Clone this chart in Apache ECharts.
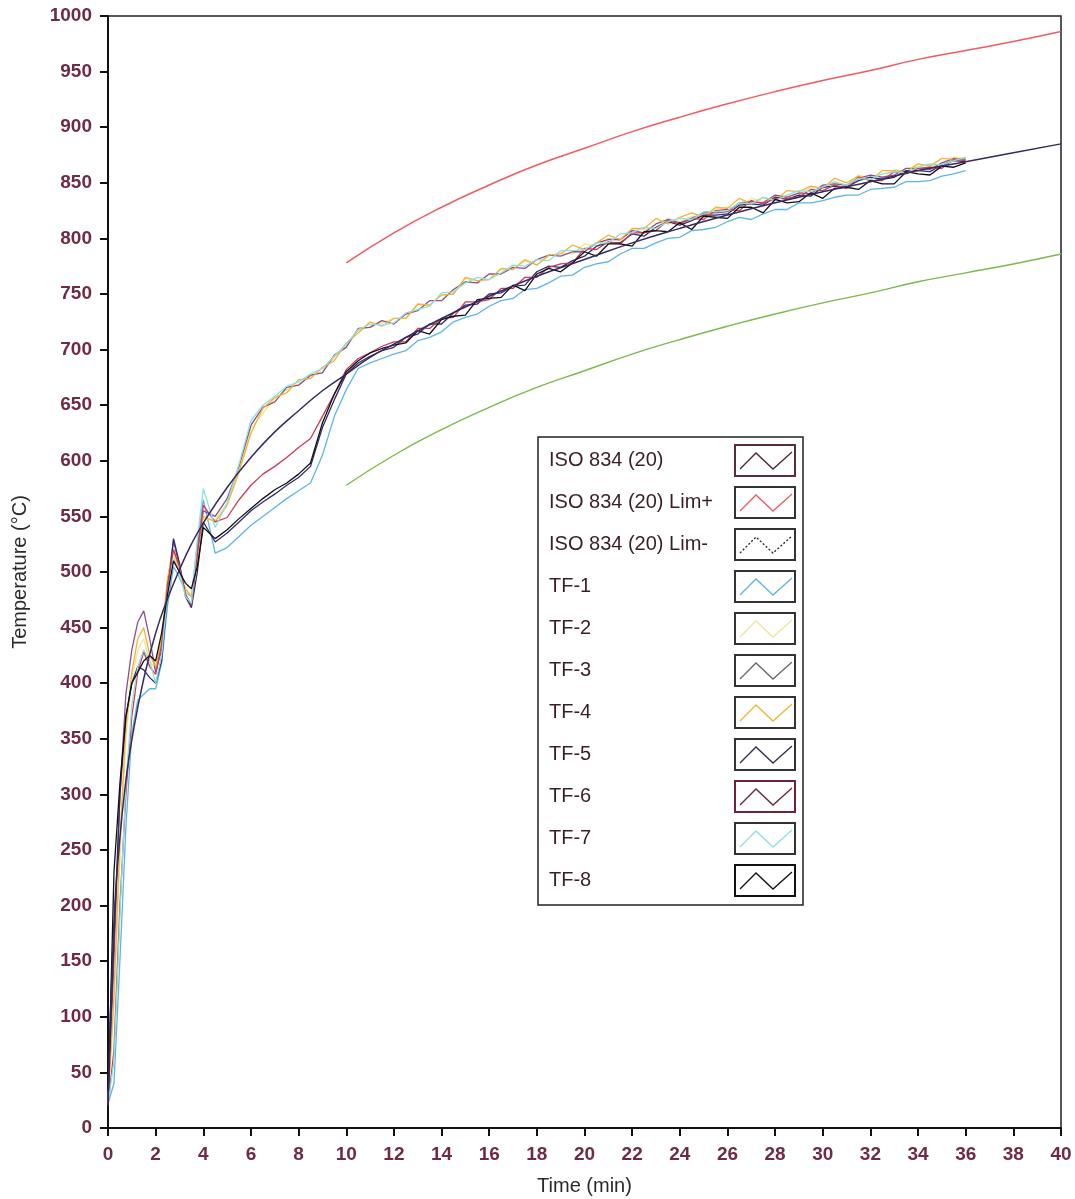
<!DOCTYPE html>
<html>
<head>
<meta charset="utf-8">
<script src="https://cdn.jsdelivr.net/npm/echarts@6/dist/echarts.min.js"></script>
<style>
  html, body { margin: 0; padding: 0; background: #fff; }
  #chart { width: 1075px; height: 1199px; }
</style>
</head>
<body>
<div id="chart"></div>
<script>
// time grid for the furnace thermocouples (min)
var tfTimes = [0,0.25,0.5,0.75,1,1.25,1.5,1.75,2,2.25,2.5,2.75,3,3.25,3.5,3.75,4,
  4.5,5,5.5,6,6.5,7,7.5,8,8.5,9,9.5,10,10.5,11,11.5,
  12,12.5,13,13.5,14,14.5,15,15.5,16,16.5,17,17.5,18,18.5,19,19.5,20,20.5,21,21.5,22,22.5,23,23.5,
  24,24.5,25,25.5,26,26.5,27,27.5,28,28.5,29,29.5,30,30.5,31,31.5,32,32.5,33,33.5,34,34.5,35,35.5,36];

var tf1 = [22,40,150,270,355,385,390,395,395,418,470,505,495,482,478,525,565,
  517,522,532,542,550,558,566,573,580,605,640,664,683,688,692,
  696,699,708,711,716,725,729,732,739,744,746,754,755,760,766,767,774,777,779,786,791,791,796,800,
  801,807,808,810,815,819,817,822,826,826,832,832,834,837,839,839,844,845,846,851,851,852,856,858,861];
var tf2 = [24,110,240,350,405,430,440,420,412,438,492,515,498,482,480,512,548,
  547,562,591,629,643,656,664,669,676,681,693,704,717,721,724,
  728,728,740,740,749,750,764,762,763,772,772,780,776,784,787,786,795,793,800,798,808,808,810,818,
  815,820,819,827,828,827,836,833,838,838,839,846,845,850,847,857,854,854,862,860,865,866,865,873,872];
var tf3 = [22,150,300,390,430,455,465,440,410,430,490,528,505,480,470,520,555,
  550,566,595,632,648,653,666,668,677,679,695,702,719,720,726,
  723,732,735,744,744,754,761,760,768,768,774,773,781,785,784,788,788,796,799,799,807,805,813,817,
  814,818,823,823,824,832,833,832,839,837,841,840,848,849,848,854,857,855,857,863,863,862,868,872,871];
var tf4 = [25,120,260,360,410,440,450,425,415,440,495,520,500,485,478,515,550,
  545,560,590,625,647,657,661,673,674,684,690,706,715,725,721,
  728,728,741,740,749,750,765,762,763,773,772,781,776,785,786,794,790,796,803,799,809,809,818,813,
  819,823,819,828,827,836,831,837,834,843,842,847,845,854,850,856,852,861,861,860,867,865,872,871,872];
var tf5 = [20,170,300,370,400,415,412,405,400,420,480,530,508,478,468,500,545,
  527,535,545,555,563,570,578,585,595,630,655,678,688,694,699,
  702,711,714,723,723,733,740,741,750,751,757,758,770,775,774,780,784,793,796,796,804,802,810,815,
  812,816,821,821,822,830,831,830,837,835,839,838,846,847,846,852,855,853,855,861,861,860,866,870,869];
var tf6 = [20,70,200,300,370,410,428,415,408,435,488,520,505,480,470,515,560,
  545,549,565,578,588,595,603,612,620,640,660,682,692,697,703,
  707,707,719,719,728,729,743,743,745,755,755,765,765,774,777,778,791,790,797,795,805,805,807,816,
  813,818,817,825,826,825,834,831,836,836,837,844,843,848,845,855,852,852,860,858,863,864,863,871,870];
var tf7 = [22,60,190,310,380,415,430,420,400,425,480,512,500,478,472,530,575,
  540,562,597,636,650,658,667,671,678,683,694,705,718,723,722,
  724,733,736,739,751,752,760,765,763,769,776,775,781,780,789,789,790,796,796,804,805,810,809,815,
  818,817,824,824,825,832,831,837,834,839,843,842,846,851,848,854,853,858,860,859,864,867,866,870,873];
var tf8 = [18,230,310,370,400,410,420,425,420,445,480,510,500,490,485,505,540,
  530,538,548,557,566,574,580,588,598,634,660,680,690,697,701,
  704,706,717,714,727,730,731,745,746,747,758,753,768,773,770,778,788,784,795,795,793,806,807,806,
  814,808,820,819,818,828,828,823,835,832,833,841,836,845,846,844,852,849,849,860,858,857,865,864,868];

// ISO 834 standard curve and its limits
var isoTimes = [0,0.25,0.5,0.75,1,1.5,2,2.5,3,3.5,4,5,6,7,8,9,10,11,12,14,16,18,20,22,24,26,28,30,32,34,36,38,40];
var isoTemps = [20,185,261,312,349,404,445,476,502,525,544,576,603,626,645,663,678,693,705,728,748,766,781,796,809,821,832,842,851,861,869,877,885];
var limTimes = [10,12,14,16,18,20,22,24,26,28,30,32,34,36,38,40];
var limPlus = [778,805,828,848,866,881,896,909,921,932,942,951,961,969,977,986];
var limMinus = [578,605,628,648,666,681,696,709,721,732,742,751,761,769,777,786];

var seriesNames = ['ISO 834 (20)', 'ISO 834 (20) Lim+', 'ISO 834 (20) Lim-',
  'TF-1', 'TF-2', 'TF-3', 'TF-4', 'TF-5', 'TF-6', 'TF-7', 'TF-8'];
var seriesColors = ['#352a62', '#f05a62', '#7fb84a',
  '#5db4ea', '#efe59a', '#8a4f90', '#f2b435', '#2b2d70', '#cc3a55', '#8ee0e0', '#111111'];
// legend swatch colours (Lim- is shown dotted black in the key)
var swatchColors = ['#4a2438', '#f05a62', '#222222',
  '#5db4ea', '#efe59a', '#6d6470', '#f2b435', '#2b2d5a', '#6b2335', '#8ee0e0', '#111111'];
var swatchFrames = ['#5a2a40', '#333', '#333', '#333', '#333', '#333', '#333', '#333', '#6b2335', '#333', '#111'];

var yTicks = { min: 0, max: 1000, step: 50 };
var xTicks = { min: 0, max: 40, step: 2 };

function pairs(xs, ys) {
  return xs.map(function (x, i) { return [x, ys[i]]; });
}

var chart = echarts.init(document.getElementById('chart'), null, { renderer: 'canvas' });

var tfData = [tf1, tf2, tf3, tf4, tf5, tf6, tf7, tf8];
var series = [];
tfData.forEach(function (d, i) {
  series.push({
    name: seriesNames[3 + i],
    type: 'line',
    data: pairs(tfTimes, d),
    showSymbol: false,
    lineStyle: { color: seriesColors[3 + i], width: 1.3 },
    z: 2
  });
});
series.push({
  name: seriesNames[0], type: 'line', data: pairs(isoTimes, isoTemps), smooth: true,
  showSymbol: false, lineStyle: { color: seriesColors[0], width: 1.5 }, z: 3
});
series.push({
  name: seriesNames[1], type: 'line', data: pairs(limTimes, limPlus), smooth: true,
  showSymbol: false, lineStyle: { color: seriesColors[1], width: 1.5 }, z: 3
});
series.push({
  name: seriesNames[2], type: 'line', data: pairs(limTimes, limMinus), smooth: true,
  showSymbol: false, lineStyle: { color: seriesColors[2], width: 1.4 }, z: 3
});

// hand-built key box to mimic the boxed zigzag swatches
var legendX = 538, legendY = 437, legendW = 265, legendH = 468, rowH = 42;
var legendEls = [{
  type: 'rect',
  shape: { x: legendX, y: legendY, width: legendW, height: legendH },
  style: { fill: '#fff', stroke: '#222', lineWidth: 1.5 },
  z: 100
}];
seriesNames.forEach(function (name, i) {
  var cy = legendY + 23 + i * rowH;
  legendEls.push({
    type: 'text', x: legendX + 11, y: cy, z: 101,
    style: { text: name, fill: '#3a1d2b', font: '20px "Liberation Sans", Arial, sans-serif',
      textVerticalAlign: 'middle', verticalAlign: 'middle' }
  });
  legendEls.push({
    type: 'rect', z: 101,
    shape: { x: 735, y: cy - 15, width: 60, height: 31 },
    style: { fill: '#fff', stroke: swatchFrames[i], lineWidth: 2 }
  });
  legendEls.push({
    type: 'polyline', z: 102,
    shape: { points: [[740, cy + 9], [756, cy - 7], [773, cy + 9], [792, cy - 8]] },
    style: { stroke: swatchColors[i], lineWidth: 1.3, fill: null,
      lineDash: i === 2 ? [2, 2] : null }
  });
});

var labelStyle = { color: '#6e2b42', fontSize: 19, fontWeight: 'bold',
  fontFamily: 'Liberation Sans, Arial, sans-serif' };
var nameStyle = { color: '#2a2a2a', fontSize: 20, fontFamily: 'Liberation Sans, Arial, sans-serif' };

chart.setOption({
  animation: false,
  backgroundColor: '#fff',
  grid: { left: 108, right: 14, top: 16, bottom: 71, show: true, borderColor: '#222', borderWidth: 1.5,
    outerBoundsMode: 'none' },
  xAxis: {
    type: 'value', min: xTicks.min, max: xTicks.max, interval: xTicks.step,
    name: 'Time (min)', nameLocation: 'middle', nameGap: 48, nameTextStyle: nameStyle,
    axisLine: { show: true, lineStyle: { color: '#111', width: 2 } },
    axisTick: { show: true, length: 8, lineStyle: { color: '#111', width: 2 } },
    axisLabel: Object.assign({ margin: 17 }, labelStyle),
    splitLine: { show: false }
  },
  yAxis: {
    type: 'value', min: yTicks.min, max: yTicks.max, interval: yTicks.step,
    name: 'Temperature (°C)', nameLocation: 'middle', nameGap: 78, nameTextStyle: nameStyle,
    axisLine: { show: true, lineStyle: { color: '#111', width: 2 } },
    axisTick: { show: true, length: 8, lineStyle: { color: '#111', width: 2 } },
    axisLabel: Object.assign({ margin: 16, formatter: function (v) { return String(v); } }, labelStyle),
    splitLine: { show: false }
  },
  series: series,
  graphic: { elements: legendEls }
});
</script>
</body>
</html>
